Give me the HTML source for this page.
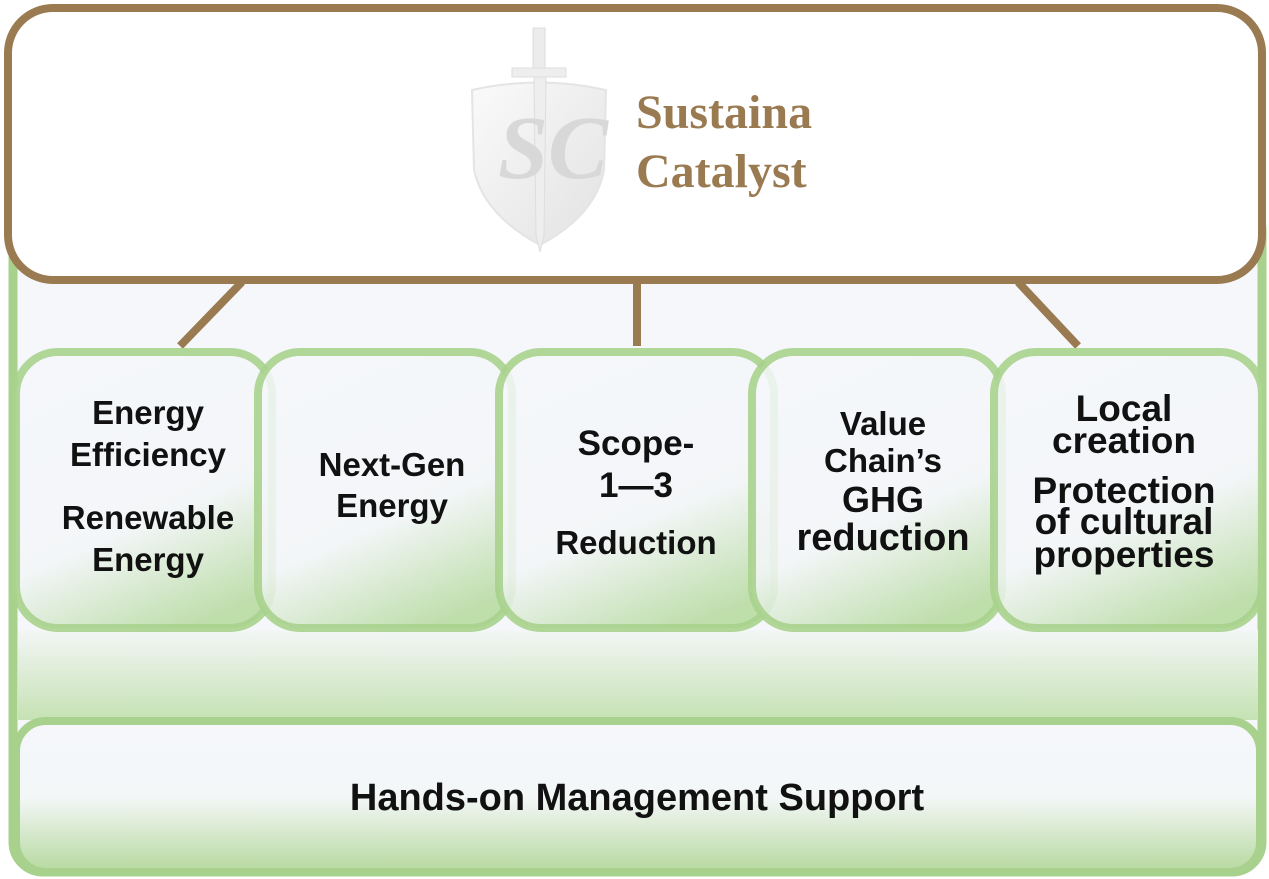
<!DOCTYPE html>
<html><head><meta charset="utf-8"><style>
html,body{margin:0;padding:0;background:#fff;}
svg{display:block;}
text{font-family:"Liberation Sans","Noto Sans CJK JP",sans-serif;font-weight:bold;fill:#111;}
</style></head><body>
<svg width="1269" height="879" viewBox="0 0 1269 879" xmlns="http://www.w3.org/2000/svg">
<defs>
<linearGradient id="bx" x1="0.3" y1="0" x2="0.7" y2="1">
<stop offset="0" stop-color="#f5f7fb"/><stop offset="0.6" stop-color="#f3f6f8"/><stop offset="1" stop-color="#b4d99c"/>
</linearGradient>
<linearGradient id="bt" x1="0" y1="0" x2="0" y2="1">
<stop offset="0" stop-color="#f5f7fb"/><stop offset="0.5" stop-color="#f4f7f8"/><stop offset="1" stop-color="#b6d99e"/>
</linearGradient>
<linearGradient id="mid" x1="0" y1="0" x2="0" y2="1">
<stop offset="0" stop-color="#f3f6f6"/><stop offset="1" stop-color="#c6e2b4"/>
</linearGradient>
<linearGradient id="sh" x1="0" y1="0" x2="1" y2="1">
<stop offset="0" stop-color="#fafafa"/><stop offset="1" stop-color="#e2e2e2"/>
</linearGradient>
</defs>
<rect x="13" y="200" width="1249" height="672" rx="30" fill="#f5f7fa" stroke="#a8d18d" stroke-width="9"/>
<rect x="18" y="630" width="1240" height="90" fill="url(#mid)"/>
<line x1="242" y1="282" x2="180" y2="346" stroke="#9a7a50" stroke-width="8"/>
<line x1="637" y1="282" x2="637" y2="346" stroke="#9a7a50" stroke-width="8"/>
<line x1="1018" y1="282" x2="1078" y2="346" stroke="#9a7a50" stroke-width="8"/>
<rect x="8" y="8" width="1254" height="272" rx="45" fill="#fff" stroke="#9a7a50" stroke-width="8"/>
<path d="M472 90 Q540 75 606 90 L604 170 Q596 215 540 245 Q484 215 474 170 Z" fill="url(#sh)" stroke="#e4e4e4" stroke-width="2"/>
<rect x="533" y="28" width="12" height="40" fill="#ececec" stroke="#ddd"/>
<rect x="512" y="68" width="54" height="9" fill="#eeeeee" stroke="#ddd"/>
<path d="M534 77 L546 77 L544 235 L540 252 L536 235 Z" fill="#eeeeee" stroke="#ddd"/>
<text x="498" y="178" style="font-family:'Liberation Serif',serif;font-size:90px;fill:#d8d8d8;font-style:italic">SC</text>
<text x="636" y="128" style="font-family:'Liberation Serif',serif;font-size:48px;fill:#9a7a50">Sustaina</text>
<text x="636" y="187" style="font-family:'Liberation Serif',serif;font-size:48px;fill:#9a7a50">Catalyst</text>
<g stroke="#a8d18d" stroke-width="8" fill="url(#bx)" fill-opacity="0.85" stroke-opacity="0.9">
<rect x="16" y="352" width="256" height="276" rx="42"/>
<rect x="258" y="352" width="254" height="276" rx="42"/>
<rect x="499" y="352" width="275" height="276" rx="42"/>
<rect x="752" y="352" width="250" height="276" rx="42"/>
<rect x="994" y="352" width="268" height="276" rx="42"/>
</g>
<rect x="16" y="721" width="1244" height="151" rx="30" fill="url(#bt)" stroke="#a8d18d" stroke-width="8"/>
<g text-anchor="middle" font-size="33">
<text x="148" y="424">Energy</text>
<text x="148" y="466">Efficiency</text>
<text x="148" y="529">Renewable</text>
<text x="148" y="571">Energy</text>
<text x="392" y="476">Next-Gen</text>
<text x="392" y="517">Energy</text>
<text x="636" y="455" font-size="35">Scope-</text>
<text x="636" y="497" font-size="35">1—3</text>
<text x="636" y="554">Reduction</text>
<text x="883" y="435" font-size="33">Value</text>
<text x="883" y="472" font-size="33">Chain’s</text>
<text x="883" y="512" font-size="36">GHG</text>
<text x="883" y="550" font-size="38">reduction</text>
<text x="1124" y="421" font-size="37">Local</text>
<text x="1124" y="453" font-size="37">creation</text>
<text x="1124" y="503" font-size="37">Protection</text>
<text x="1124" y="534" font-size="37">of cultural</text>
<text x="1124" y="567" font-size="37">properties</text>
<text x="637" y="810" font-size="38">Hands-on Management Support</text>
</g>
</svg>
</body></html>
